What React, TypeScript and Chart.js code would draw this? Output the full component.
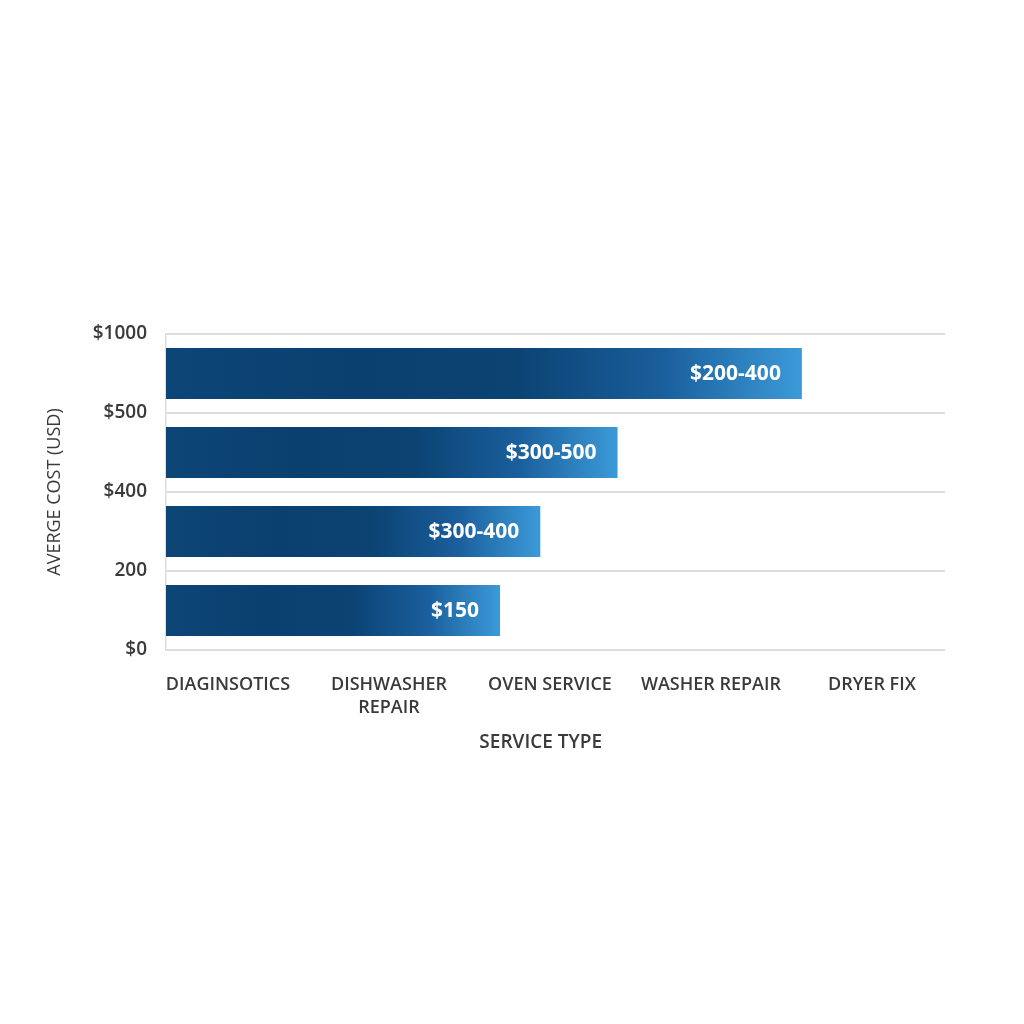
import React, { useEffect, useRef } from "react";
import { Chart, registerables } from "chart.js";

Chart.register(...registerables);

const serviceTypes: (string | string[])[] = [
  "DIAGINSOTICS",
  ["DISHWASHER", "REPAIR"],
  "OVEN SERVICE",
  "WASHER REPAIR",
  "DRYER FIX",
];
const servicePositions = [0.5, 1.5, 2.5, 3.5, 4.5];
const yTickLabels = ["$0", "200", "$400", "$500", "$1000"];
const barBands = [0.5, 1.5, 2.5, 3.5];
const barLengths = [2.19, 2.44, 2.92, 4.065];
const barLabels = ["$150", "$300-400", "$300-500", "$200-400"];

const FONT = "'Open Sans', 'Noto Sans', sans-serif";

export default function App() {
  const ref = useRef<HTMLCanvasElement | null>(null);

  useEffect(() => {
    if (!ref.current) return;

    const labelPlugin = {
      id: "barLabels",
      afterDatasetsDraw(chart: any) {
        const ctx = chart.ctx;
        const meta = chart.getDatasetMeta(0);
        ctx.save();
        ctx.fillStyle = "#ffffff";
        ctx.font = `700 21px ${FONT}`;
        ctx.textAlign = "right";
        ctx.textBaseline = "middle";
        meta.data.forEach((el: any, i: number) => {
          ctx.fillText(barLabels[i], el.x - 21, el.y + 1);
        });
        ctx.restore();
      },
    };

    const chart = new Chart(ref.current, {
      type: "bar",
      data: {
        datasets: [
          {
            data: barBands.map((b, i) => ({ x: barLengths[i], y: b })),
            backgroundColor: (c: any) => {
              const ch = c.chart;
              const area = ch.chartArea;
              if (!area) return "#0b3f72";
              const xs = ch.scales.x;
              const end = xs.getPixelForValue(barLengths[c.dataIndex] ?? 1);
              const g = ch.ctx.createLinearGradient(area.left, 0, end, 0);
              g.addColorStop(0, "#0c4576");
              g.addColorStop(0.3, "#0a4070");
              g.addColorStop(0.55, "#0b4373");
              g.addColorStop(0.78, "#1a5e9c");
              g.addColorStop(1, "#3c9ad8");
              return g;
            },
            borderWidth: 0,
            categoryPercentage: 1,
            barPercentage: 0.645,
          } as any,
        ],
      },
      options: {
        responsive: false,
        animation: false,
        indexAxis: "y",
        layout: { padding: { left: 16, right: 79, top: 334, bottom: 264 } },
        plugins: {
          legend: { display: false },
          tooltip: { enabled: false },
        },
        scales: {
          x: {
            type: "linear",
            min: 0.115,
            max: 4.954,
            offset: false,
            grid: { display: false, offset: false },
            border: { display: false },
            afterBuildTicks: (s: any) => {
              s.ticks = servicePositions.map((v) => ({ value: v }));
            },
            afterFit: (s: any) => {
              s.height = 110;
            },
            ticks: {
              autoSkip: false,
              maxRotation: 0,
              minRotation: 0,
              padding: 15,
              color: "#3a3a3a",
              font: { family: FONT, size: 18, weight: 600, lineHeight: 1.28 },
              callback: (_v: any, i: number) => serviceTypes[i],
            },
            title: {
              display: true,
              text: "SERVICE TYPE      ",
              color: "#3a3a3a",
              font: { family: FONT, size: 19, weight: 600 },
              padding: { top: 0, bottom: 6 },
            },
          },
          y: {
            type: "linear",
            min: 0,
            max: 4,
            offset: false,
            afterBuildTicks: (s: any) => {
              s.ticks = yTickLabels.map((_, i) => ({ value: i }));
            },
            afterFit: (s: any) => {
              s.width = 150;
            },
            grid: {
              color: "#dcdcdc",
              lineWidth: 2,
              drawTicks: false,
              offset: false,
            },
            border: { display: true, color: "#dddddd", width: 1.5 },
            ticks: {
              padding: 19,
              color: "#3a3a3a",
              font: { family: FONT, size: 19, weight: 600 },
              callback: (_v: any, i: number) => yTickLabels[i],
            },
            title: {
              display: true,
              text: "AVERGE COST (USD)",
              color: "#3a3a3a",
              font: { family: FONT, size: 18, weight: 500 },
              padding: { top: 28, bottom: 0 },
            },
          },
        },
      },
      plugins: [labelPlugin],
    });

    return () => chart.destroy();
  }, []);

  return (
    <div style={{ position: "absolute", left: 0, top: 0, width: 1024, height: 1024, background: "#ffffff" }}>
      <canvas ref={ref} width={1024} height={1024} />
    </div>
  );
}
